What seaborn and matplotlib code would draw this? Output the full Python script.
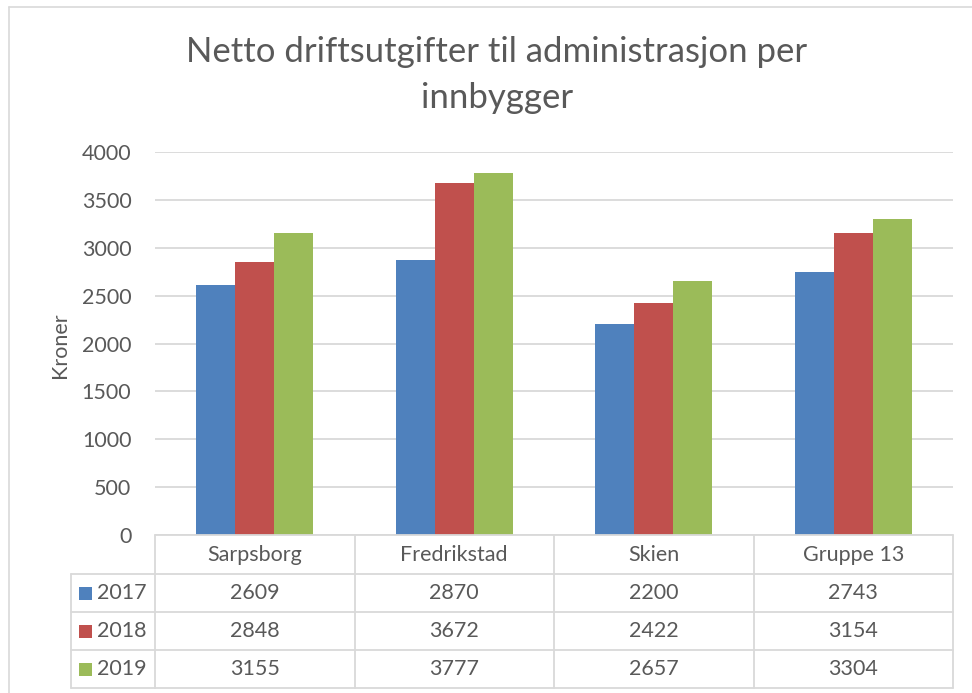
import numpy as np
import pandas as pd
import matplotlib
matplotlib.use("Agg")
import matplotlib.pyplot as plt
import seaborn as sns
from matplotlib.transforms import blended_transform_factory
from matplotlib.lines import Line2D
from matplotlib.patches import Rectangle

# ---- data ----
categories = ["Sarpsborg", "Fredrikstad", "Skien", "Gruppe 13"]
years = ["2017", "2018", "2019"]
values_2017 = [2609, 2870, 2200, 2743]
values_2018 = [2848, 3672, 2422, 3154]
values_2019 = [3155, 3777, 2657, 3304]
yticks = [0, 500, 1000, 1500, 2000, 2500, 3000, 3500, 4000]
title = "Netto driftsutgifter til administrasjon per\ninnbygger"
ylabel = "Kroner"
colors = ["#4F81BD", "#C0504D", "#9BBB59"]

series = {"2017": values_2017, "2018": values_2018, "2019": values_2019}

sns.set_theme(style="white")
plt.rcParams['font.family'] = ['Lato', 'DejaVu Sans']

TXT = "#595959"
GRID = "#d9d9d9"
FS = 15.5

W, H = 972, 693
fig = plt.figure(figsize=(W / 100, H / 100), dpi=100)


def fx(px):
    return px / W


def fy(py):
    return 1 - py / H


ax = fig.add_axes([fx(155), fy(535), fx(953) - fx(155), fy(152) - fy(535)])

df = pd.DataFrame({
    "Kategori": [c for y in years for c in categories],
    "År": [y for y in years for c in categories],
    "Kroner": [v for y in years for v in series[y]],
})

sns.barplot(data=df, x="Kategori", y="Kroner", hue="År", palette=colors,
            width=0.585, saturation=1, ax=ax, legend=False,
            edgecolor="none", linewidth=0)

ax.set_xlim(-0.5, len(categories) - 0.5)
ax.set_ylim(0, 4000)
ax.set_yticks(yticks)
ax.yaxis.grid(True, color=GRID, linewidth=1.3)
ax.xaxis.grid(False)
ax.set_axisbelow(True)
for s in ax.spines.values():
    s.set_visible(False)
ax.set_xticks([])
ax.set_xlabel("")
ax.set_ylabel("")
ax.tick_params(axis='y', length=0, pad=17, labelsize=FS, labelcolor=TXT)

# y label
fig.text(fx(60), fy(345), ylabel, rotation=90, ha='center', va='center',
         fontsize=FS, color=TXT)

# title
fig.text(fx(497), fy(75), title, ha='center', va='center', multialignment='center',
         fontsize=25, color=TXT, linespacing=1.55)

# ---- data table ----
trans = blended_transform_factory(ax.transData, fig.transFigure)
lw = 1.3
xmax = len(categories) - 0.5

# horizontal lines
ax.add_line(Line2D([-0.5, xmax], [fy(535)] * 2, transform=trans,
                   color=GRID, lw=lw, clip_on=False))
for ypx in [574, 612, 650, 688]:
    fig.add_artist(Line2D([fx(71), fx(155)], [fy(ypx)] * 2, color=GRID, lw=lw))
    ax.add_line(Line2D([-0.5, xmax], [fy(ypx)] * 2, transform=trans,
                       color=GRID, lw=lw, clip_on=False))

# vertical lines
for i in range(len(categories) + 1):
    ax.add_line(Line2D([i - 0.5, i - 0.5], [fy(535), fy(688)], transform=trans,
                       color=GRID, lw=lw, clip_on=False))
fig.add_artist(Line2D([fx(71), fx(71)], [fy(574), fy(688)], color=GRID, lw=lw))

# header
for i, c in enumerate(categories):
    ax.text(i, fy(555), c, transform=trans, ha='center', va='center',
            fontsize=FS, color=TXT)

row_y = [593, 631, 669]
for r, (yr, col) in enumerate(zip(years, colors)):
    yc = row_y[r]
    fig.add_artist(Rectangle((fx(79), fy(yc + 6.5)), fx(13), 13 / H,
                             transform=fig.transFigure, color=col, lw=0))
    fig.text(fx(97), fy(yc), yr, ha='left', va='center', fontsize=FS, color=TXT)
    for i, v in enumerate(series[yr]):
        ax.text(i, fy(yc), str(v), transform=trans, ha='center', va='center',
                fontsize=FS, color=TXT)

# outer chart frame
fig.add_artist(Line2D([fx(8.5), fx(8.5)], [fy(7), 0], color=GRID, lw=1.2))
fig.add_artist(Line2D([fx(8.5), 1], [fy(7), fy(7)], color=GRID, lw=1.2))

fig.savefig("out.png", dpi=100)
